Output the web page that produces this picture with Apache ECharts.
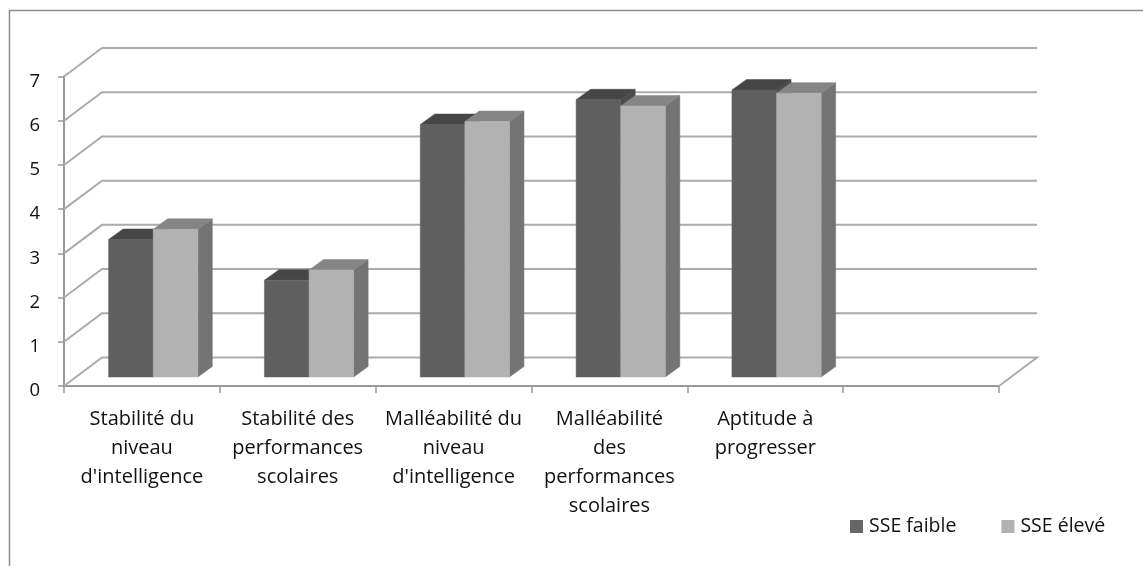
<!DOCTYPE html>
<html><head><meta charset="utf-8">
<style>html,body{margin:0;padding:0;background:#fff}#c{width:1143px;height:566px}</style>
<script src="https://cdn.jsdelivr.net/npm/echarts@6/dist/echarts.min.js"></script>
</head><body><div id="c"></div>
<script>
const categories = ["Stabilité du\nniveau\nd'intelligence","Stabilité des\nperformances\nscolaires","Malléabilité du\nniveau\nd'intelligence","Malléabilité\ndes\nperformances\nscolaires","Aptitude à\nprogresser",""];
const sseFaible = [3.11,2.19,5.71,6.27,6.49];
const sseEleve = [3.34,2.42,5.78,6.13,6.42];
const yTicks = [0,1,2,3,4,5,6,7];
const FONT = 'Open Sans';
const WALL = {dx:38, dy:-28.5};
const BAR = {left:-33.3, width:44.6, base:-9, dx:14.5, dy:-10.5};

function barRenderer(slot, front, top, side){
  return function(params, api){
    const i = api.value(0), v = api.value(1);
    const cx = api.coord([i,0])[0];
    const y0 = api.coord([i,0])[1] + BAR.base;
    const y1 = api.coord([i,v])[1] + BAR.base;
    const x0 = cx + BAR.left + slot*BAR.width, x1 = x0 + BAR.width;
    const poly = (pts, fill) => ({type:'polygon', shape:{points:pts}, style:{fill:fill, stroke:fill, lineWidth:0.5}});
    return {type:'group', children:[
      poly([[x1,y1],[x1+BAR.dx,y1+BAR.dy],[x1+BAR.dx,y0+BAR.dy],[x1,y0]], side),
      poly([[x0,y1],[x0+BAR.dx,y1+BAR.dy],[x1+BAR.dx,y1+BAR.dy],[x1,y1]], top),
      poly([[x0,y1],[x1,y1],[x1,y0],[x0,y0]], front)
    ]};
  };
}
function wallRenderer(params, api){
  const v = api.value(0), cs = params.coordSys, y = api.coord([0,v])[1];
  const l = cs.x, r = cs.x + cs.width;
  const pts = [[l,y],[l+WALL.dx,y+WALL.dy],[r+WALL.dx,y+WALL.dy]];
  if(v===0) pts.push([r,y]);
  return {type:'polyline', shape:{points:pts}, style:{fill:'none', stroke:'#ababab', lineWidth:2}};
}
const chart = echarts.init(document.getElementById('c'), null, {renderer:'canvas'});
chart.setOption({
  animation:false,
  backgroundColor:'#fff',
  textStyle:{fontFamily:FONT},
  grid:{left:64, right:144, top:76.5, bottom:180, containLabel:false},
  legend:{data:['SSE faible','SSE élevé'], left:845, top:511.5, icon:'rect', itemWidth:13, itemHeight:13, itemGap:45,
    textStyle:{fontFamily:FONT, fontSize:19.5, color:'#111', padding:[5,0,0,1]}},
  xAxis:{type:'category', data:categories, boundaryGap:true,
    axisLine:{lineStyle:{color:'#999', width:2}},
    axisTick:{show:true, length:7, alignWithLabel:false, lineStyle:{color:'#999', width:1.5}},
    axisLabel:{interval:0, fontFamily:FONT, fontSize:20, color:'#111', lineHeight:29, margin:19, align:'center'}},
  yAxis:{type:'value', min:0, max:7, interval:1,
    axisLine:{show:true, lineStyle:{color:'#999', width:2}},
    axisTick:{show:true, length:6, lineStyle:{color:'#999', width:1.5}},
    splitLine:{show:false},
    axisLabel:{fontFamily:FONT, fontSize:18.5, color:'#111', margin:24, verticalAlign:'top', lineHeight:10}},
  graphic:[{type:'polyline', silent:true, z:0, shape:{points:[[9.5,566],[9.5,10.5],[1143,10.5]]},
    style:{fill:'none', stroke:'#8c8c8c', lineWidth:1.5}}],
  series:[
    {name:'grille', type:'custom', z:1, silent:true, data:yTicks.map(v=>[v]), encode:{y:0}, renderItem:wallRenderer},
    {name:'SSE faible', type:'custom', z:3, itemStyle:{color:'#666666'}, data:sseFaible.map((v,i)=>[i,v]), encode:{x:0,y:1},
      renderItem:barRenderer(0,'#5f5f5f','#464646','#4b4b4b')},
    {name:'SSE élevé', type:'custom', z:4, itemStyle:{color:'#b2b2b2'}, data:sseEleve.map((v,i)=>[i,v]), encode:{x:0,y:1},
      renderItem:barRenderer(1,'#b2b2b2','#858585','#747474')}
  ]
});
</script></body></html>
